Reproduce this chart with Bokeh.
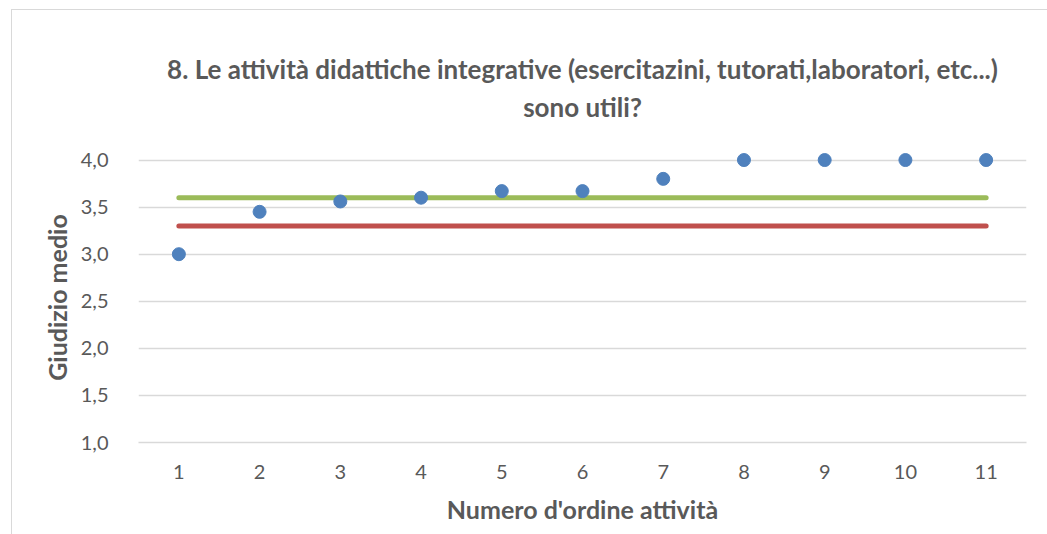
from bokeh.plotting import figure
from bokeh.models import Range1d, FixedTicker, CustomJSTickFormatter, Title
from bokeh.embed import file_html
from bokeh.resources import INLINE

# ---- data ----
attivita = [1, 2, 3, 4, 5, 6, 7, 8, 9, 10, 11]
giudizio_medio = [3.0, 3.45, 3.56, 3.6, 3.67, 3.67, 3.8, 4.0, 4.0, 4.0, 4.0]
linea_x = [1, 11]
media_verde = [3.6, 3.6]
media_rossa = [3.3, 3.3]
y_ticks = [1.0, 1.5, 2.0, 2.5, 3.0, 3.5, 4.0]
title_lines = ["8. Le attività didattiche integrative (esercitazini, tutorati,laboratori, etc...)",
               "sono utili?"]

FONT = "Lato"
GRAY = "#595959"
OX, OY = 11, 9          # page position of the chart box
W, H = 1047 - OX, 534 - OY
FL, FR, FB = 137, 1025, 441   # frame left/right/bottom in page px

p = figure(width=W, height=H, output_backend="svg", toolbar_location=None,
           x_range=Range1d(0.5, 11.5), y_range=Range1d(1.0, 4.08),
           min_border_left=FL - OX, min_border_right=1047 - FR,
           min_border_top=142, min_border_bottom=534 - FB)
p.styles = {"border-left": "1px solid #d9d9d9", "border-top": "1px solid #d9d9d9",
            "margin-left": "%dpx" % OX, "margin-top": "%dpx" % OY}
p.outline_line_color = None
p.background_fill_color = "white"
p.border_fill_color = "white"

# spacer between frame and title
p.add_layout(Title(text=" ", text_font_size="12px", standoff=10), "above")
# title: two centred lines, the later one added sits higher
for text, so in ((title_lines[1], 7), (title_lines[0], 2)):
    p.add_layout(Title(text=text, align="center", text_font=FONT,
                       text_font_size="26px", text_font_style="bold", text_color=GRAY,
                       standoff=so), "above")

# grid
p.xgrid.grid_line_color = None
p.ygrid.ticker = FixedTicker(ticks=y_ticks)
p.ygrid.grid_line_color = "#d9d9d9"
p.ygrid.grid_line_width = 1.5

# axes
p.xaxis.ticker = FixedTicker(ticks=attivita)
p.yaxis.ticker = FixedTicker(ticks=y_ticks)
p.yaxis.formatter = CustomJSTickFormatter(code="return tick.toFixed(1).replace('.', ',');")
for ax in (p.xaxis[0], p.yaxis[0]):
    ax.major_tick_line_color = None
    ax.minor_tick_line_color = None
    ax.major_label_text_font = FONT
    ax.major_label_text_font_size = "20px"
    ax.major_label_text_color = GRAY
    ax.axis_label_text_font = FONT
    ax.axis_label_text_font_size = "25px"
    ax.axis_label_text_font_style = "bold"
    ax.axis_label_text_color = GRAY
p.yaxis.axis_line_color = None
p.xaxis.axis_line_color = "#d9d9d9"
p.xaxis.axis_line_width = 1.5
p.xaxis.major_label_standoff = 16
p.yaxis.major_label_standoff = 24
p.xaxis.axis_label = "Numero d'ordine attività"
p.yaxis.axis_label = "Giudizio medio"
p.xaxis.axis_label_standoff = 12
p.yaxis.axis_label_standoff = 6

# series
p.line(linea_x, media_verde, line_color="#9BBB59", line_width=5, line_cap="round")
p.line(linea_x, media_rossa, line_color="#C0504D", line_width=5, line_cap="round")
p.scatter(attivita, giudizio_medio, size=13, fill_color="#4F81BD", line_color="#4F81BD")

open("out.html", "w").write(file_html(p, INLINE))
